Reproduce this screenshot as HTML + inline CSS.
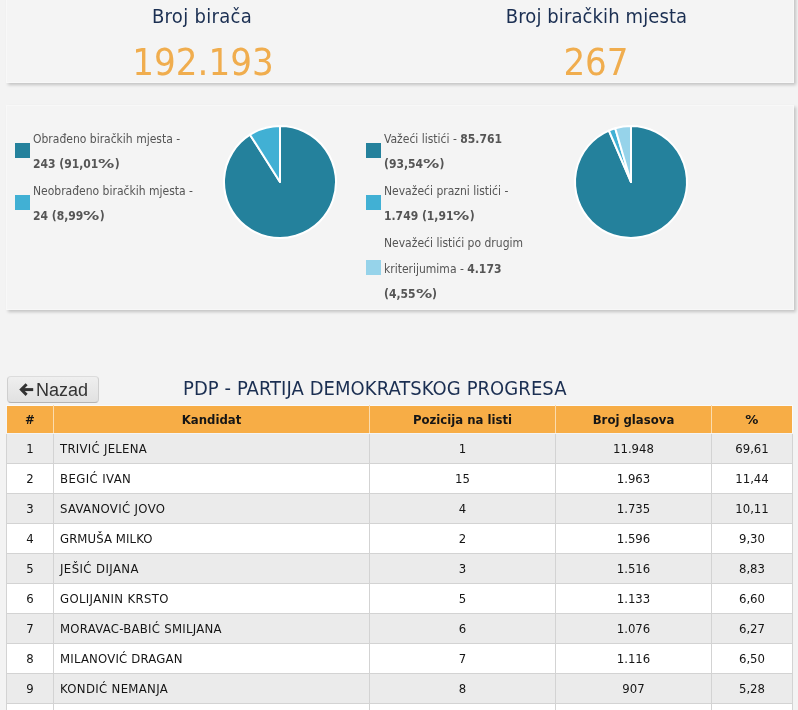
<!DOCTYPE html>
<html lang="bs">
<head>
<meta charset="utf-8">
<title>Rezultati</title>
<style>
html,body{margin:0;padding:0;}
body{width:798px;height:710px;overflow:hidden;background:#f3f3f3;position:relative;
 font-family:"DejaVu Sans Condensed","DejaVu Sans","Liberation Sans",sans-serif;font-stretch:condensed;color:#222;}
.abs{position:absolute;white-space:nowrap;}
.panel{position:absolute;left:6px;width:788px;background:#f4f4f4;box-shadow:2px 2px 3px rgba(0,0,0,.2);border:1px solid #f8f8f8;box-sizing:border-box;}
.h{color:#1b2f52;font-size:20px;line-height:24px;text-align:center;}
.n{color:#f0ad4e;font-size:38px;line-height:40px;text-align:center;}
.lg{font-size:12px;line-height:26px;color:#555;}
.lg b{font-weight:bold;}
.lg b.u{position:relative;top:-1px;}
.pc{display:inline-block;transform:scaleX(1.5);transform-origin:0 50%;margin-right:5.5px;}
.sq{position:absolute;width:15px;height:15px;}
table{position:absolute;left:6px;top:405px;width:786px;border-collapse:collapse;table-layout:fixed;font-size:13px;}
td,th{border:1px solid #d3d3d3;height:29px;padding:0;text-align:center;color:#151515;}
th{background:#f7ad46;height:27px;font-weight:bold;border-color:#fbdcae;border-top-color:#fafafa;border-bottom-color:#f4f4f4;}
th:first-child{border-left-color:#f6f6f6;}th:last-child{border-right-color:#fafafa;}
tr.o td{background:#ebebeb;}
tr.f td{border-top-color:#f4f4f4;}
tr.e td{background:#fff;}
td.l{text-align:left;padding-left:6px;}
.btn{position:absolute;left:7px;top:376px;width:92px;height:27px;box-sizing:border-box;border:1px solid #cfcfcf;border-top-color:#dcdcdc;border-bottom-color:#b4b4b4;border-radius:4px;
 background:linear-gradient(#efefef,#e1e1e1);font-family:"Liberation Sans",sans-serif;font-size:18px;color:#333;}
</style>
</head>
<body>
<div class="panel" style="top:-10px;height:93px;"></div>
<div class="abs h" style="left:102px;width:200px;top:4px;letter-spacing:.3px;">Broj birača</div>
<div class="abs n" style="left:103px;width:200px;top:42px;">192.193</div>
<div class="abs h" style="left:496.5px;width:200px;top:4px;letter-spacing:.1px;">Broj biračkih mjesta</div>
<div class="abs n" style="left:496px;width:200px;top:42px;">267</div>

<div class="panel" style="top:105px;height:205px;"></div>
<div class="sq" style="left:15px;top:143px;background:#24819c;"></div>
<div class="sq" style="left:15px;top:195px;background:#41b0d4;"></div>
<div class="abs lg" style="left:33px;top:126px;">Obrađeno biračkih mjesta -<br><b class="u">243 (91,01<span class="pc">%</span>)</b><br>Neobrađeno biračkih mjesta -<br><b class="u">24 (8,99<span class="pc">%</span>)</b></div>

<svg class="abs" style="left:220px;top:121.5px;" width="120" height="120" viewBox="-60 -60 120 120">
<g stroke="#fff" stroke-width="2" stroke-linejoin="round">
<path d="M0,0 L0,-56 A56,56 0 1 1 -29.98,-47.3 Z" fill="#24819c"/>
<path d="M0,0 L-29.98,-47.3 A56,56 0 0 1 0,-56 Z" fill="#41b0d4"/>
</g>
</svg>

<div class="sq" style="left:366px;top:143px;background:#24819c;"></div>
<div class="sq" style="left:366px;top:195px;background:#41b0d4;"></div>
<div class="sq" style="left:366px;top:260px;background:#96d3ea;"></div>
<div class="abs lg" style="left:384px;top:126px;">Važeći listići - <b>85.761</b><br><b class="u">(93,54<span class="pc">%</span>)</b><br>Nevažeći prazni listići -<br><b class="u">1.749 (1,91<span class="pc">%</span>)</b><br>Nevažeći listići po drugim<br>kriterijumima - <b>4.173</b><br><b class="u">(4,55<span class="pc">%</span>)</b></div>

<svg class="abs" style="left:571px;top:121.5px;" width="120" height="120" viewBox="-60 -60 120 120">
<g stroke="#fff" stroke-width="2" stroke-linejoin="round">
<path d="M0,0 L0,-56 A56,56 0 1 1 -22.11,-51.45 Z" fill="#24819c"/>
<path d="M0,0 L-22.11,-51.45 A56,56 0 0 1 -15.79,-53.73 Z" fill="#41b0d4"/>
<path d="M0,0 L-15.79,-53.73 A56,56 0 0 1 0,-56 Z" fill="#96d3ea"/>
</g>
</svg>

<div class="btn"><svg class="abs" style="left:10.6px;top:6px;" width="15" height="14" viewBox="0 0 15 14"><path d="M7.6,1.3 L2.3,6.6 L7.6,11.9" fill="none" stroke="#333" stroke-width="2.9"/><path d="M2.6,6.6 H14.2" fill="none" stroke="#333" stroke-width="3"/></svg><span class="abs" style="left:28px;top:2px;line-height:22px;">Nazad</span></div>
<div class="abs" style="left:183px;top:376px;font-size:20px;line-height:24px;color:#1b2f52;letter-spacing:.07px;">PDP - PARTIJA DEMOKRATSKOG PROGRESA</div>

<table>
<colgroup><col style="width:47px"><col style="width:316px"><col style="width:186px"><col style="width:156px"><col style="width:81px"></colgroup>
<tr><th>#</th><th>Kandidat</th><th>Pozicija na listi</th><th>Broj glasova</th><th><span style="display:inline-block;transform:scaleX(1.12)">%</span></th></tr>
<tr class="o f"><td>1</td><td class="l" style="letter-spacing:0.27px">TRIVIĆ JELENA</td><td>1</td><td>11.948</td><td>69,61</td></tr>
<tr class="e"><td>2</td><td class="l" style="letter-spacing:0.41px">BEGIĆ IVAN</td><td>15</td><td>1.963</td><td>11,44</td></tr>
<tr class="o"><td>3</td><td class="l" style="letter-spacing:0.35px">SAVANOVIĆ JOVO</td><td>4</td><td>1.735</td><td>10,11</td></tr>
<tr class="e"><td>4</td><td class="l" style="letter-spacing:0.09px">GRMUŠA MILKO</td><td>2</td><td>1.596</td><td>9,30</td></tr>
<tr class="o"><td>5</td><td class="l" style="letter-spacing:0.41px">JEŠIĆ DIJANA</td><td>3</td><td>1.516</td><td>8,83</td></tr>
<tr class="e"><td>6</td><td class="l" style="letter-spacing:0.34px">GOLIJANIN KRSTO</td><td>5</td><td>1.133</td><td>6,60</td></tr>
<tr class="o"><td>7</td><td class="l" style="letter-spacing:0.28px">MORAVAC-BABIĆ SMILJANA</td><td>6</td><td>1.076</td><td>6,27</td></tr>
<tr class="e"><td>8</td><td class="l" style="letter-spacing:0.19px">MILANOVIĆ DRAGAN</td><td>7</td><td>1.116</td><td>6,50</td></tr>
<tr class="o"><td>9</td><td class="l" style="letter-spacing:0.33px">KONDIĆ NEMANJA</td><td>8</td><td>907</td><td>5,28</td></tr>
<tr class="e"><td>10</td><td class="l">&nbsp;</td><td></td><td></td><td></td></tr>
</table>
</body>
</html>
